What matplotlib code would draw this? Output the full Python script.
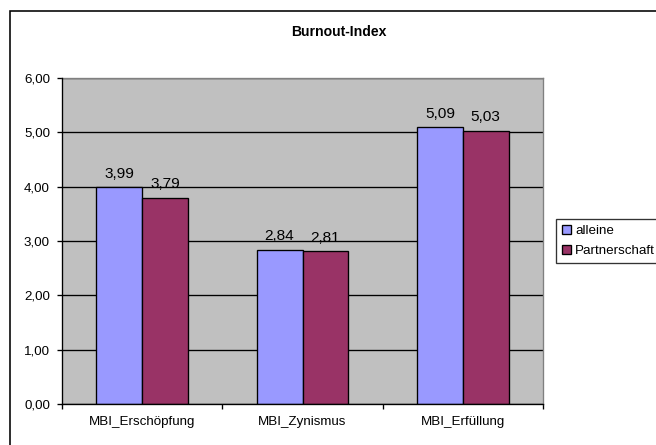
import matplotlib.pyplot as plt
import matplotlib.patches as patches
from matplotlib.ticker import FuncFormatter, FixedLocator
import numpy as np

plt.rcParams['font.family'] = ['Liberation Sans', 'DejaVu Sans']

categories = ["MBI_Erschöpfung", "MBI_Zynismus", "MBI_Erfüllung"]
alleine = [3.99, 2.84, 5.09]
partnerschaft = [3.79, 2.81, 5.03]
series_names = ["alleine", "Partnerschaft"]

W, H = 656, 445
fig = plt.figure(figsize=(W / 96, H / 96), dpi=96)
ax = fig.add_axes([62 / W, 1 - 404 / H, (543 - 62) / W, (404 - 78) / H])

x = np.arange(len(categories))
bw = 1 / 3.5
b1 = ax.bar(x - bw / 2, alleine, bw, color="#9999FF", edgecolor="black", linewidth=1, zorder=3, label=series_names[0])
b2 = ax.bar(x + bw / 2, partnerschaft, bw, color="#993366", edgecolor="black", linewidth=1, zorder=3, label=series_names[1])

fmt = lambda v: f"{v:.2f}".replace(".", ",")
for bars, vals in ((b1, alleine), (b2, partnerschaft)):
    for r, v in zip(bars, vals):
        ax.annotate(fmt(v), (r.get_x() + r.get_width() / 2, v), xytext=(0, 5),
                    textcoords="offset points", ha="center", va="bottom", fontsize=11.5)

ax.set_facecolor("#C0C0C0")
ax.set_xlim(-0.5, 2.5)
ax.set_ylim(0, 6)
ax.set_yticks(np.arange(0, 7, 1))
ax.yaxis.set_major_formatter(FuncFormatter(lambda v, p: fmt(v)))
ax.grid(axis="y", color="black", linewidth=1, zorder=1)

ax.set_xticks(x)
ax.set_xticklabels(categories)
ax.xaxis.set_minor_locator(FixedLocator([-0.5, 0.5, 1.5, 2.5]))
ax.tick_params(axis="x", which="major", length=0, pad=9, labelsize=10)
ax.tick_params(axis="x", which="minor", length=4, width=1, direction="out", color="black")
ax.tick_params(axis="y", length=4, width=1, direction="out", pad=5, labelsize=10, color="black")

for s in ("top", "right"):
    ax.spines[s].set_color("#808080")
    ax.spines[s].set_linewidth(1)
for s in ("left", "bottom"):
    ax.spines[s].set_color("black")
    ax.spines[s].set_linewidth(1)
    ax.spines[s].set_zorder(4)

fig.text(339 / W, 1 - 32 / H, "Burnout-Index", ha="center", va="center", fontsize=10.5, fontweight="bold")

leg = fig.legend(handles=[b1, b2], loc="upper left", bbox_to_anchor=(556 / W, 1 - 219 / H),
                 frameon=True, fancybox=False, edgecolor="black", fontsize=10,
                 handlelength=0.7, handleheight=0.7, handletextpad=0.3, labelspacing=0.55,
                 borderpad=0.45, borderaxespad=0)
leg.get_frame().set_linewidth(1)

# outer chart border (cropped on right and bottom)
fig.patches.append(patches.Rectangle((10 / W, -0.1), 1.2, 1 - 11 / H + 0.1, transform=fig.transFigure,
                                     fill=False, edgecolor="black", linewidth=1.2))

fig.savefig("out.png", dpi=96)
